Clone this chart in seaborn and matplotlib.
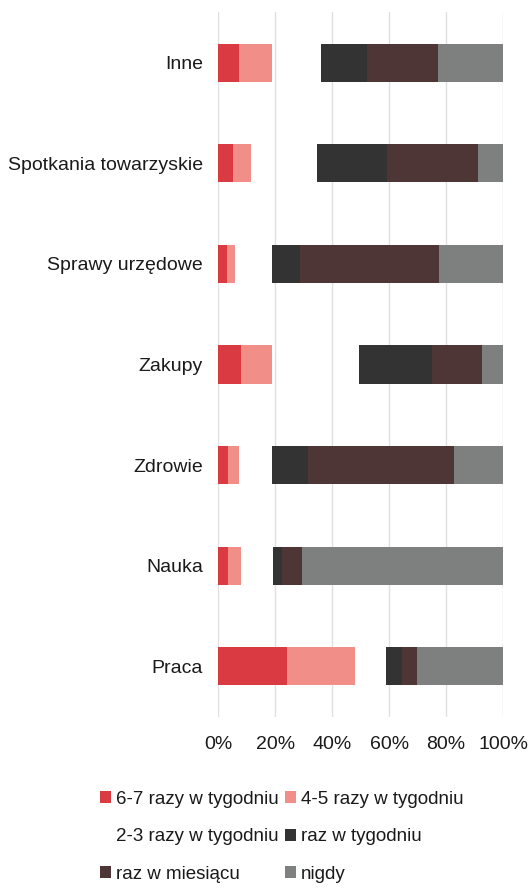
import seaborn as sns
import matplotlib
matplotlib.use('Agg')
import matplotlib.pyplot as plt
import matplotlib.patches as mpatches
import numpy as np

sns.set_style('whitegrid')
plt.rcParams['font.family'] = ['Liberation Sans Narrow', 'Liberation Sans', 'DejaVu Sans']

categories = ['Inne', 'Spotkania towarzyskie', 'Sprawy urzędowe', 'Zakupy',
              'Zdrowie', 'Nauka', 'Praca']
series = ['6-7 razy w tygodniu', '4-5 razy w tygodniu', '2-3 razy w tygodniu',
          'raz w tygodniu', 'raz w miesiącu', 'nigdy']
v_67 = [7.4, 5.4, 3.0, 8.0, 3.6, 3.6, 24.3]
v_45 = [11.4, 6.2, 3.0, 10.8, 3.8, 4.4, 23.8]
v_23 = [17.2, 23.2, 12.8, 30.8, 11.4, 11.4, 10.7]
v_tyg = [16.2, 24.6, 10.0, 25.6, 12.9, 2.9, 5.6]
v_mies = [25.1, 31.6, 48.7, 17.3, 50.9, 7.1, 5.5]
v_nigdy = [22.7, 9.0, 22.5, 7.5, 17.4, 70.6, 30.1]
# "2-3 razy" is drawn with no fill in the original
colors = ['#DA3A42', '#F28E88', 'none', '#333333', '#4E3637', '#7D807F']

values = [v_67, v_45, v_23, v_tyg, v_mies, v_nigdy]

fig = plt.figure(figsize=(5.28, 8.88), dpi=100)
ax = fig.add_axes([0.413, 0.193, 0.540, 0.793])

y = np.arange(len(categories))
left = np.zeros(len(categories))
for vals, col in zip(values, colors):
    ax.barh(y, vals, left=left, height=0.38, color=col, edgecolor='none')
    left += np.array(vals)

ax.set_ylim(len(categories) - 0.5, -0.5)
ax.set_xlim(0, 100)
ax.set_yticks(y)
ax.set_yticklabels(categories, fontsize=14, color='#1A1A1A')
ax.set_xticks(np.arange(0, 101, 20))
ax.set_xticklabels([f'{t}%' for t in range(0, 101, 20)], fontsize=14, color='#1A1A1A')
ax.grid(axis='y', visible=False)
ax.grid(axis='x', color='#E0E0E0', linewidth=1)
for s in ax.spines.values():
    s.set_visible(False)
ax.tick_params(axis='y', length=0, pad=11)
ax.tick_params(axis='x', length=0, pad=14)

handles = [mpatches.Patch(facecolor=('white' if c == 'none' else c), edgecolor='none', label=s)
           for s, c in zip(series, colors)]
order = [0, 2, 4, 1, 3, 5]
fig.legend([handles[i] for i in order], [series[i] for i in order],
           loc='upper left', bbox_to_anchor=(0.175, 0.118), ncol=2, frameon=False,
           fontsize=13.5, handlelength=0.6, handleheight=0.6, handletextpad=0.25,
           columnspacing=0.35, labelspacing=1.1, borderaxespad=0,
           labelcolor='#1A1A1A')

fig.savefig('out.png', dpi=100)
